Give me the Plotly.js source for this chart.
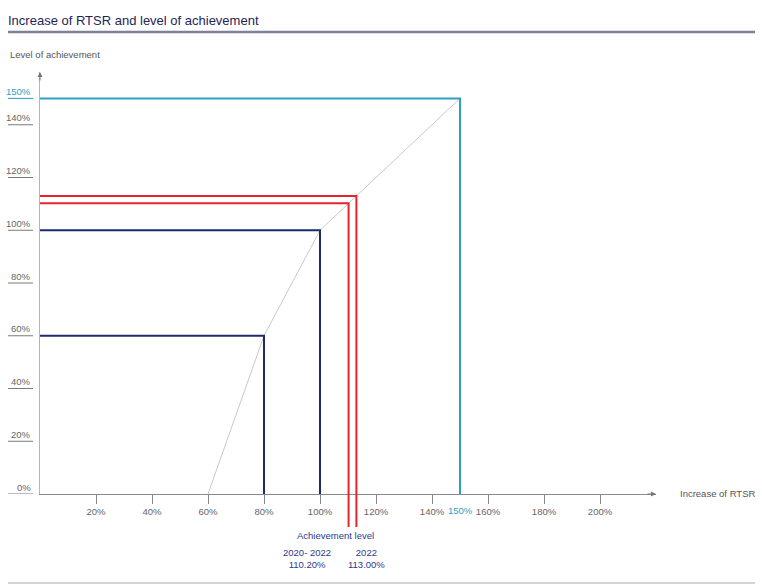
<!DOCTYPE html>
<html><head><meta charset="utf-8">
<script src="https://cdn.plot.ly/plotly-3.0.1.min.js"></script>
<style>html,body{margin:0;padding:0;background:#fff}</style>
</head><body><div id="chart" style="width:762px;height:585px"></div>
<script>
// ---- data ----
const curveRTSR = [60, 80, 100, 150];
const curveLevel = [0, 60, 100, 150];
const thresholdRTSR = [80, 100];
const thresholdLevel = [60, 100];
const capRTSR = 150;
const capLevel = 150;
const capLabel = '150%';
const resultPeriods = ['2020- 2022', '2022'];
const resultRTSR = [110.2, 113.0];
const resultLevel = [110.2, 113.0];
const resultLabels = ['110.20%', '113.00%'];
const xTickVals = [20, 40, 60, 80, 100, 120, 140, 160, 180, 200];
const xTickText = ['20%', '40%', '60%', '80%', '100%', '120%', '140%', '160%', '180%', '200%'];
const yTickVals = [0, 20, 40, 60, 80, 100, 120, 140];
const yTickText = ['0%', '20%', '40%', '60%', '80%', '100%', '120%', '140%'];

// ---- styles ----
const FONT = 'Liberation Sans, Arial, sans-serif';
const FS = 9.5;
const NAVY = '#1d2b6e';
const RED = '#e5242c';
const CYAN = '#2f9fc2';
const TEXTNAVY = '#2b3a8c';
const GREY = '#666666';

const traces = [];
traces.push({x: curveRTSR, y: curveLevel, mode: 'lines', line: {color: '#c9c9c9', width: 1}, hoverinfo: 'skip', showlegend: false});
thresholdRTSR.forEach((tx, i) => {
  traces.push({x: [0, tx, tx], y: [thresholdLevel[i], thresholdLevel[i], 0], mode: 'lines', line: {color: NAVY, width: 2}, hoverinfo: 'skip', showlegend: false});
});
resultRTSR.forEach((rx, i) => {
  traces.push({x: [0, rx, rx], y: [resultLevel[i], resultLevel[i], 0], mode: 'lines', line: {color: RED, width: 2}, hoverinfo: 'skip', showlegend: false});
});
traces.push({x: [0, capRTSR, capRTSR], y: [capLevel, capLevel, 0], mode: 'lines', line: {color: CYAN, width: 2}, hoverinfo: 'skip', showlegend: false});

const W = 762, H = 585, ML = 40, MR = 106, MT = 72, MB = 91;
const PW = W - ML - MR, PH = H - MT - MB;
const px = p => (p - ML) / PW;          // pixel -> paper x
const py = p => (H - MB - p) / PH;      // pixel -> paper y

const shapes = [];
const annotations = [];

// title rule and bottom rule
shapes.push({type: 'line', xref: 'paper', yref: 'paper', x0: px(8), x1: px(755), y0: py(32), y1: py(32), line: {color: '#7e7f98', width: 2.5}});
shapes.push({type: 'line', xref: 'paper', yref: 'paper', x0: px(8), x1: px(755), y0: py(583), y1: py(583), line: {color: '#a8a8a8', width: 1}});

// y tick labels with underline
yTickVals.forEach((v, i) => {
  shapes.push({type: 'line', xref: 'paper', yref: 'y', x0: px(8), x1: px(33), y0: v, y1: v, line: {color: '#7a7a7a', width: 1}});
  annotations.push({xref: 'paper', yref: 'y', x: px(33), y: v, xanchor: 'right', yanchor: 'middle', yshift: 7, text: yTickText[i], showarrow: false, font: {family: FONT, size: FS, color: GREY}});
});
shapes.push({type: 'line', xref: 'paper', yref: 'y', x0: px(8), x1: px(33), y0: capLevel, y1: capLevel, line: {color: CYAN, width: 1}});
annotations.push({xref: 'paper', yref: 'y', x: px(33), y: capLevel, xanchor: 'right', yanchor: 'middle', yshift: 7, text: capLabel, showarrow: false, font: {family: FONT, size: FS, color: CYAN}});
// cyan x label
annotations.push({xref: 'x', yref: 'y', x: capRTSR, y: 0, xanchor: 'center', yanchor: 'middle', yshift: -16, text: capLabel, showarrow: false, font: {family: FONT, size: FS, color: CYAN}});

// red extensions below axis
resultRTSR.forEach(rx => {
  shapes.push({type: 'line', xref: 'x', yref: 'paper', x0: rx, x1: rx, y0: 0, y1: py(527), line: {color: RED, width: 2}});
});

// axis arrows
annotations.push({xref: 'x', yref: 'y', x: 220, y: 0, ax: -10, ay: 0, showarrow: true, arrowhead: 2, arrowsize: 1, arrowwidth: 1, arrowcolor: '#777', text: ''});
annotations.push({xref: 'x', yref: 'y', x: 0, y: 160, ax: 0, ay: 10, showarrow: true, arrowhead: 2, arrowsize: 1, arrowwidth: 1, arrowcolor: '#777', text: ''});

// axis titles
annotations.push({xref: 'paper', yref: 'paper', x: px(8), y: py(55), xanchor: 'left', yanchor: 'middle', text: 'Level of achievement', showarrow: false, font: {family: FONT, size: FS, color: '#555'}});
annotations.push({xref: 'paper', yref: 'paper', x: px(678), y: py(493), xanchor: 'left', yanchor: 'middle', text: 'Increase of RTSR', showarrow: false, font: {family: FONT, size: FS, color: '#555'}});

// achievement labels
const midRTSR = (resultRTSR[0] + resultRTSR[1]) / 2;
annotations.push({xref: 'x', yref: 'paper', x: midRTSR, y: py(535), xanchor: 'center', yanchor: 'middle', xshift: -17, text: 'Achievement level', showarrow: false, font: {family: FONT, size: FS, color: TEXTNAVY}});
const shifts = [-42, 10];
resultRTSR.forEach((rx, i) => {
  annotations.push({xref: 'x', yref: 'paper', x: rx, y: py(558), xanchor: 'center', yanchor: 'middle', xshift: shifts[i], text: resultPeriods[i] + '<br>' + resultLabels[i], showarrow: false, font: {family: FONT, size: FS, color: TEXTNAVY}});
});

const layout = {
  width: W, height: H,
  margin: {l: ML, r: MR, t: MT, b: MB, pad: 0},
  paper_bgcolor: '#fff', plot_bgcolor: '#fff',
  font: {family: FONT, size: FS, color: GREY},
  title: {text: 'Increase of RTSR and level of achievement', xref: 'container', yref: 'container', x: 8 / W, xanchor: 'left', y: 1 - 20 / H, yanchor: 'middle', font: {family: FONT, size: 13, color: '#1e2458'}},
  xaxis: {range: [0, 220], showline: true, linecolor: '#8a8a8a', linewidth: 1, ticks: 'outside', ticklen: 9, tickcolor: '#8a8a8a', tickvals: xTickVals, ticktext: xTickText, tickfont: {family: FONT, size: FS, color: GREY}, showgrid: false, zeroline: false, fixedrange: true},
  yaxis: {range: [0, 160], showline: true, linecolor: '#b5b5b5', linewidth: 1, showticklabels: false, ticks: '', showgrid: false, zeroline: false, fixedrange: true},
  shapes: shapes,
  annotations: annotations,
  showlegend: false
};
Plotly.newPlot('chart', traces, layout, {displayModeBar: false, staticPlot: true});
</script></body></html>
